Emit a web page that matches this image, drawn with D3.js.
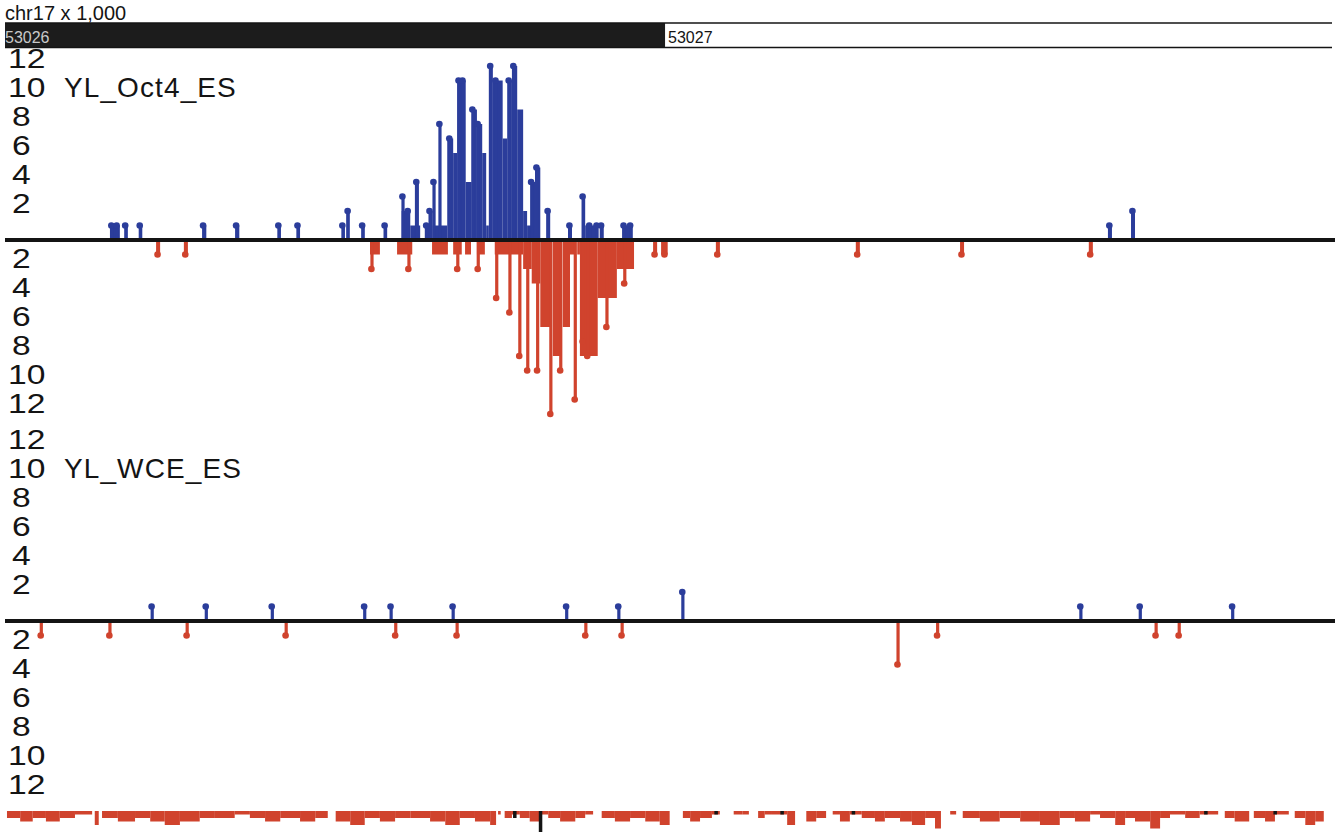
<!DOCTYPE html>
<html>
<head>
<meta charset="utf-8">
<script src="https://cdn.jsdelivr.net/npm/d3@7"></script>
<style>
  html, body { margin: 0; background: #fff; }
  svg { display: block; font-family: "Liberation Sans", Arial, sans-serif; }
</style>
</head>
<body>
<svg id="chart" width="1338" height="832"></svg>
<script>
// ---- view -------------------------------------------------------------
const chrom = "chr17";
const origin = 53026000;          // all positions below are bp offsets from here
const viewRange = [0, 2015];      // visible window (bp offsets)
const rulerTicks = [0, 1000];     // ruler labels, shown in kb
const countTicks = [2, 4, 6, 8, 10, 12];
const trackNames = ["YL_Oct4_ES", "YL_WCE_ES"];

// ---- YL_Oct4_ES, forward strand: coverage steps [start, end, count] ----
const oct4PlusCoverage = [
  [159,174,1],[182,186,1],[203,208,1],[300,305,1],[350,355,1],[414,418,1],[442,447,1],
  [511,515,1],[517,521,2],[541,545,1],[574,579,1],
  [601,614,2],[614,629,1],[621,627,4],[636,644,1],[644,648,2],[648,670,1],
  [670,679,7],[679,685,6],[685,698,11],[698,707,4],[707,715,9],[715,723,8],[723,729,6],
  [729,733,1],[733,739,12],[739,754,11],[754,761,7],[761,768,11],[768,776,12],[776,785,9],
  [785,791,2],[791,797,1],[797,803,4],[803,811,5],
  [820,826,2],[853,859,1],[874,879,3],[879,898,1],[901,907,1],[935,951,1],
  [1671,1677,1],[1706,1712,2]
];
// tag peaks [position, count]
const oct4PlusTags = [
  [162,1],[170,1],[183,1],[205,1],[301,1],[351,1],[415,1],[444,1],[512,1],[520,2],[542,1],
  [576,1],[603,3],[611,2],[624,4],[639,1],[644,2],[650,4],[659,8],[674,7],[688,11],[694,11],
  [709,9],[717,8],[736,12],[744,11],[764,11],[771,12],[798,4],[806,5],[823,2],[856,1],
  [876,3],[886,1],[897,1],[904,1],[938,1],[948,1],[1674,1],[1709,2]
];

// ---- YL_Oct4_ES, reverse strand ----------------------------------------
const oct4MinusCoverage = [
  [229,235,1],[271,277,1],[553,568,1],[594,617,1],[647,671,1],[679,692,1],[697,706,1],
  [715,727,1],[742,785,1],[785,798,2],[798,811,3],[811,827,6],[830,842,8],[845,856,6],
  [856,864,1],[867,871,1],[871,898,8],[898,927,4],[927,953,2],
  [982,988,1],[994,1004,1],[1077,1083,1],[1289,1295,1],[1447,1453,1],[1642,1648,1]
];
const oct4MinusTags = [
  [232,1],[274,1],[556,2],[612,2],[686,2],[717,2],[745,4],[765,5],[780,8],[792,9],
  [807,9],[827,12],[842,9],[864,11],[876,7],[883,8],[912,6],[939,3],
  [985,1],[1000,1],[1080,1],[1292,1],[1450,1],[1645,1]
];

// ---- YL_WCE_ES ----------------------------------------------------------
const wcePlusTags = [
  [223,1],[305,1],[405,1],[545,1],[585,1],[679,1],[851,1],[930,1],[1027,2],
  [1630,1],[1720,1],[1860,1]
];
const wceMinusTags = [
  [55,1],[159,1],[276,1],[426,1],[592,1],[685,1],[880,1],[935,1],[1353,3],
  [1413,1],[1744,1],[1779,1]
];

// ---- next track (only its top edge is in view) --------------------------
const lowerCoverage = [
  [3,23,2],[23,42,3],[42,62,2],[62,83,3],[83,106,2],[106,132,1],
  [136,142,4],
  [147,171,2],[171,197,3],[197,220,2],[220,242,3],[242,265,4],[265,295,3],[295,318,2],
  [318,348,2],[348,371,1],[371,394,2],[394,417,3],[417,447,2],[447,470,3],[470,489,2],
  [501,523,3],[523,545,4],[545,568,2],[568,591,3],[591,614,2],[614,644,2],[644,667,3],
  [667,689,4],[689,712,2],[712,735,3],[735,744,4],
  [747,751,1],
  [757,768,2],[768,780,1],[780,795,2],[795,811,3],[811,823,1],[823,841,2],[841,864,3],
  [864,879,2],[879,891,1],
  [904,924,2],[924,947,3],[947,970,2],[970,992,3],[992,1007,4],
  [1027,1038,2],[1038,1053,3],[1053,1071,2],[1071,1083,1],
  [1104,1117,1],[1117,1127,1],
  [1141,1151,2],[1151,1162,1],[1162,1185,1],[1185,1197,4],
  [1214,1229,3],[1229,1244,2],
  [1254,1265,1],[1265,1280,3],[1280,1298,1],[1298,1318,2],[1318,1333,3],[1333,1356,2],
  [1356,1374,3],[1374,1394,4],[1394,1409,2],[1409,1418,5],
  [1432,1441,1],
  [1451,1477,2],[1477,1507,3],[1507,1538,2],[1538,1568,3],[1568,1598,4],[1598,1621,2],
  [1621,1644,3],[1644,1659,1],[1659,1682,2],[1682,1697,4],[1697,1712,2],[1712,1735,3],
  [1735,1750,5],[1750,1765,2],[1765,1788,1],[1788,1810,2],[1810,1838,1],
  [1848,1863,2],[1863,1885,3],
  [1892,1909,2],[1909,1924,3],[1924,1945,1],
  [1954,1970,2],[1970,1985,4],[1985,1998,3]
];
const lowerMarks = [[772,2],[811,6],[1077,1],[1177,1],[1285,1],[1819,1],[1924,1]];

// ---- styling ------------------------------------------------------------
const BLUE = "#2b3d9b";
const RED = "#d0432d";
const INK = "#141414";
const LABEL_SIZE = 28;

const svg = d3.select("#chart");
const x = d3.scaleLinear().domain(viewRange).range([5, 1335]);
const pxPerCount = 14.5;

// everything below the ruler is clipped at its lower edge
svg.append("defs").append("clipPath").attr("id", "belowRuler")
  .append("rect").attr("x", 0).attr("y", 48).attr("width", 1338).attr("height", 790);

function strandScale(base, dir) {
  return d3.scaleLinear().domain([0, 12]).range([base, base + dir * 12 * pxPerCount]);
}

function drawStrand(g, coverage, tags, y, color) {
  const y0 = y(0);
  g.append("g").selectAll("rect").data(coverage).join("rect")
    .attr("x", d => x(d[0]))
    .attr("width", d => Math.max(1, x(d[1]) - x(d[0])))
    .attr("y", d => Math.min(y0, y(d[2])))
    .attr("height", d => Math.abs(y(d[2]) - y0))
    .attr("fill", color);
  g.append("g").selectAll("rect").data(tags).join("rect")
    .attr("x", d => x(d[0]) - 1.6)
    .attr("width", 3.2)
    .attr("y", d => Math.min(y0, y(d[1])))
    .attr("height", d => Math.abs(y(d[1]) - y0))
    .attr("fill", color);
  g.append("g").selectAll("circle").data(tags).join("circle")
    .attr("cx", d => x(d[0]) - 0.6)
    .attr("cy", d => y(d[1]))
    .attr("r", 3.3)
    .attr("fill", color);
}

function countLabels(g, yFor) {
  g.append("g").selectAll("text").data(countTicks).join("text")
    .attr("transform", d => `translate(${d >= 10 ? 8 : 12},${yFor(d)}) scale(1.2,1)`)
    .attr("dominant-baseline", "central")
    .attr("font-size", LABEL_SIZE).attr("fill", INK)
    .text(d => d);
}

function drawTrack(base, name, plusCov, plusTags, minusCov, minusTags) {
  const g = svg.append("g").attr("clip-path", "url(#belowRuler)");
  const yUp = strandScale(base, -1);
  const yDown = strandScale(base, 1);

  countLabels(g, d => yUp(d) - 8);
  countLabels(g, d => yDown(d) - 11);

  g.append("text")
    .attr("x", 64).attr("y", yUp(10) - 8)
    .attr("dominant-baseline", "central")
    .attr("font-size", LABEL_SIZE).attr("letter-spacing", 1.1).attr("fill", INK)
    .text(name);

  drawStrand(g, plusCov, plusTags, yUp, BLUE);
  drawStrand(g, minusCov, minusTags, yDown, RED);

  g.append("line")
    .attr("x1", x(viewRange[0])).attr("x2", x(viewRange[1]))
    .attr("y1", base).attr("y2", base)
    .attr("stroke", INK).attr("stroke-width", 4);
}

drawTrack(240, trackNames[0], oct4PlusCoverage, oct4PlusTags, oct4MinusCoverage, oct4MinusTags);
drawTrack(621, trackNames[1], [], wcePlusTags, [], wceMinusTags);

// next track, hanging below its top edge
const lowerY = d3.scaleLinear().domain([0, 6]).range([811, 832]);
const lower = svg.append("g");
lower.selectAll("rect.cov").data(lowerCoverage).join("rect")
  .attr("class", "cov")
  .attr("x", d => x(d[0]))
  .attr("width", d => Math.max(1, x(d[1]) - x(d[0])))
  .attr("y", lowerY(0))
  .attr("height", d => lowerY(d[2]) - lowerY(0))
  .attr("fill", RED);
lower.selectAll("rect.mark").data(lowerMarks).join("rect")
  .attr("class", "mark")
  .attr("x", d => x(d[0]) - 1.5)
  .attr("width", 3.5)
  .attr("y", lowerY(0))
  .attr("height", d => lowerY(d[1]) - lowerY(0))
  .attr("fill", INK);

// ---- header and ruler ---------------------------------------------------
svg.append("text")
  .attr("x", 5).attr("y", 20)
  .attr("font-size", 20).attr("fill", INK)
  .text(`${chrom} x 1,000`);

const ruler = svg.append("g");
ruler.append("rect")
  .attr("x", x(rulerTicks[0])).attr("y", 23)
  .attr("width", x(rulerTicks[1]) - x(rulerTicks[0])).attr("height", 25)
  .attr("fill", "#1c1c1c");
[23, 47.5].forEach(yy => ruler.append("line")
  .attr("x1", x(viewRange[0])).attr("x2", x(viewRange[1]) - 3)
  .attr("y1", yy).attr("y2", yy)
  .attr("stroke", INK).attr("stroke-width", 1.6));
ruler.selectAll("text").data(rulerTicks).join("text")
  .attr("x", (d, i) => x(d) + (i === 0 ? 0 : 3))
  .attr("y", 43)
  .attr("font-size", 16)
  .attr("fill", (d, i) => i === 0 ? "#c9c9c9" : INK)
  .text(d => Math.round((origin + d) / 1000));
</script>
</body>
</html>
